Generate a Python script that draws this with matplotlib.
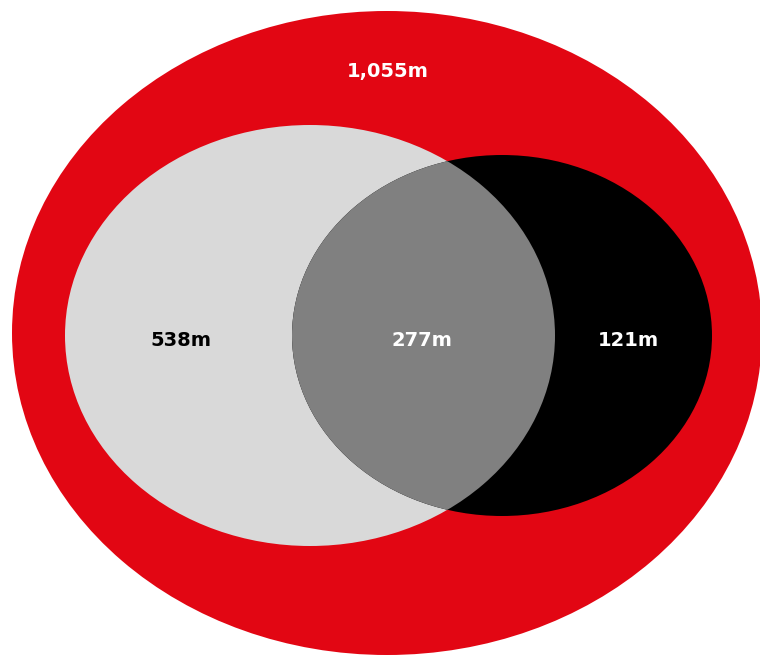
import matplotlib
matplotlib.use("Agg")
import matplotlib.pyplot as plt
from matplotlib.patches import Ellipse

# values (millions)
labels = ["1,055m", "538m", "277m", "121m"]
total = 1055
only_a = 538
both = 277
only_b = 121

fig = plt.figure(figsize=(7.6, 6.56), dpi=100)
ax = fig.add_axes([0, 0, 1, 1])
ax.set_xlim(0, 760)
ax.set_ylim(656, 0)
ax.axis("off")

red = "#e20613"
light = "#d9d9d9"
mid = "#808080"

outer = Ellipse((387, 333), 750, 644, color=red, lw=0)
ax.add_patch(outer)

left = Ellipse((310, 335.5), 490, 421, color=light, lw=0)
ax.add_patch(left)

right = Ellipse((502, 335.5), 420, 361, color="black", lw=0)
ax.add_patch(right)

# overlap: left ellipse clipped by right one
overlap = Ellipse((310, 335.5), 490, 421, color=mid, lw=0)
ax.add_patch(overlap)
overlap.set_clip_path(right)

txt = dict(fontsize=14, ha="center", va="center", family="DejaVu Sans", weight="bold")
ax.text(388, 72, labels[0], color="white", **txt)
ax.text(181, 341, labels[1], color="black", **txt)
ax.text(422, 341, labels[2], color="white", **txt)
ax.text(628, 341, labels[3], color="white", **txt)

fig.savefig("out.png", dpi=100)
